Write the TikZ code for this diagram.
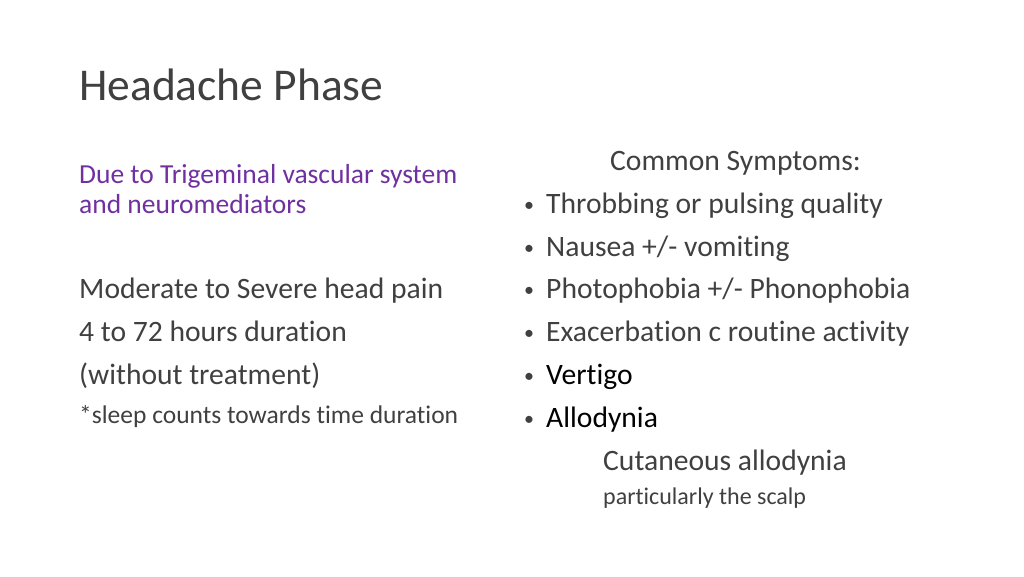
\documentclass[tikz,border=0pt]{standalone}
\usepackage{fontspec}
\setmainfont{Carlito}[Ligatures={NoCommon}]
\definecolor{bodyg}{HTML}{404040}
\definecolor{purp}{HTML}{7030A0}
\begin{document}
\begin{tikzpicture}[x=1pt,y=-1pt,
  txt/.style={anchor=base west,inner sep=0pt,text=bodyg,font=\fontsize{29.6}{34}\selectfont}]
\useasboundingbox[fill=white] (0,0) rectangle (1024,576);
\node[txt,font=\fontsize{45.5}{52}\selectfont] (title) at (79,100) {Headache Phase};
\node[txt,text=purp,font=\fontsize{27.5}{32}\selectfont] (d1) at (79,183) {Due to Trigeminal vascular system};
\node[txt,text=purp,font=\fontsize{27.5}{32}\selectfont] (d2) at (79,213) {and neuromediators};
\node[txt] (m1) at (79,298) {Moderate to Severe head pain};
\node[txt] (m2) at (79,341) {4 to 72 hours duration};
\node[txt] (m3) at (79,384) {(without treatment)};
\node[txt,font=\fontsize{25.5}{30}\selectfont] (m4) at (79,423) {*sleep counts towards time duration};
\node[txt] (cs) at (610,170) {Common Symptoms:};
\foreach \y/\t/\c [count=\i] in {213/{Throbbing or pulsing quality}/bodyg,256/{Nausea +{/}- vomiting}/bodyg,298/{Photophobia +{/}- Phonophobia}/bodyg,341/{Exacerbation c routine activity}/bodyg,384/{Vertigo}/black,427/{Allodynia}/black}{
  \node[txt,font=\fontsize{20}{24}\selectfont] (b\i) at (524,\y-2) {•};
  \node[txt,text=\c] (s\i) at (546,\y) {\t};
}
\node[txt] (ca) at (603,470) {Cutaneous allodynia};
\node[txt,font=\fontsize{24}{28}\selectfont] (ps) at (603,504) {particularly the scalp};
\end{tikzpicture}
\end{document}
